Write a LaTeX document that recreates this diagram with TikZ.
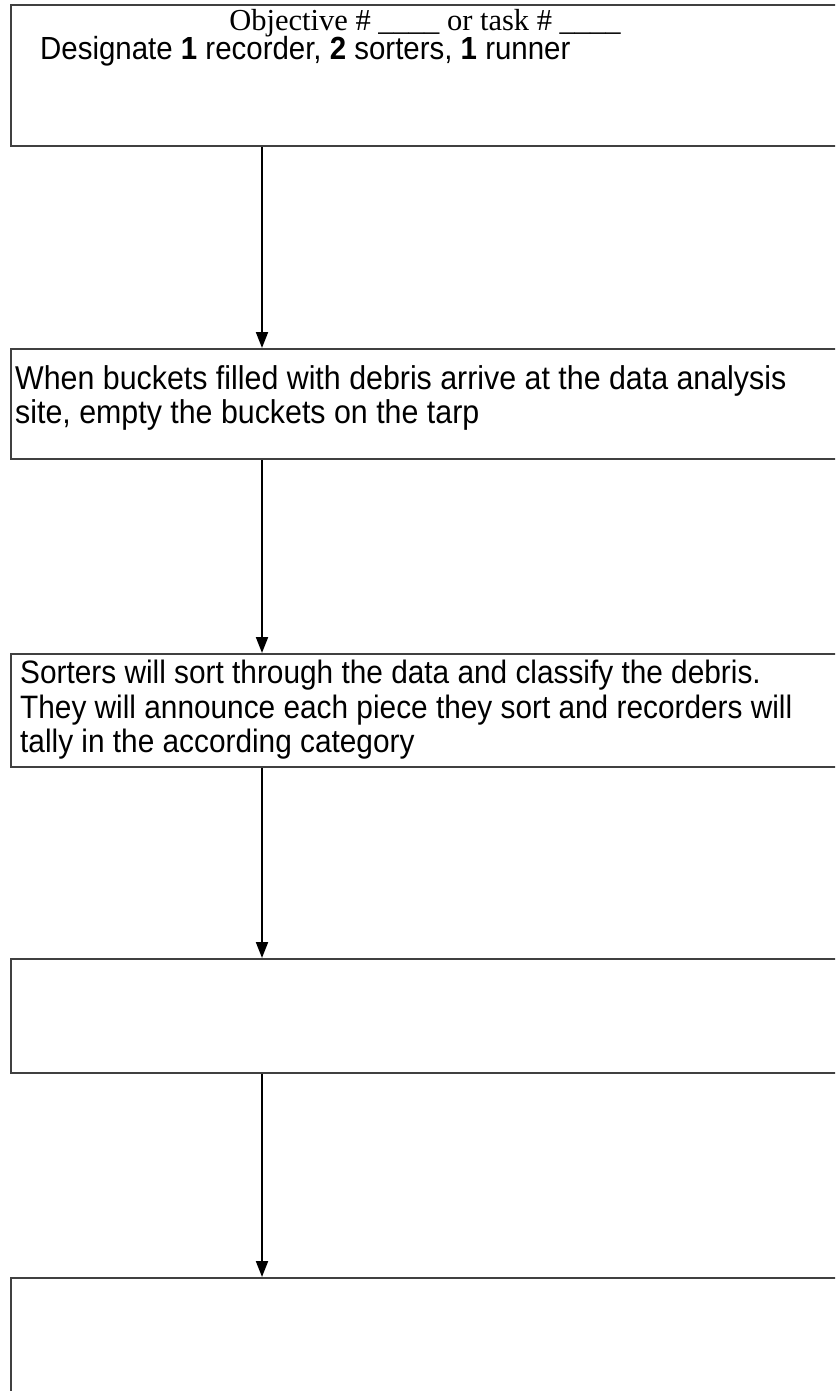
\documentclass[tikz,border=0pt]{standalone}
\usepackage{fontspec}
\setmainfont{Liberation Sans}[FakeStretch=0.92]
\newfontfamily\serifface{Liberation Serif}
\usetikzlibrary{arrows.meta}
\begin{document}
\begin{tikzpicture}[x=1pt,y=-1pt,
  box/.style={draw=black!75,line width=2.2pt,fill=none,rectangle,anchor=north west,inner sep=0pt},
  txt/.style={anchor=base west,inner sep=0pt,font=\fontsize{33}{34}\selectfont},
  conn/.style={draw=black,line width=2pt,-{Triangle[length=16pt,width=12pt]}}]
\clip (0,0) rectangle (835,1391);
\fill[white] (0,0) rectangle (835,1391);
% boxes
\node[box,minimum width=840pt,minimum height=141pt] (b1) at (10,4) {};
\node[box,minimum width=840pt,minimum height=110pt] (b2) at (10,348) {};
\node[box,minimum width=840pt,minimum height=113pt] (b3) at (10,653) {};
\node[box,minimum width=840pt,minimum height=114pt] (b4) at (10,958) {};
\node[box,minimum width=840pt,minimum height=130pt] (b5) at (10,1277) {};
% texts
\node[anchor=base,inner sep=0pt,font=\serifface\fontsize{30.5}{32}\selectfont] (t1a) at (425,31)
  {Objective \# \_\_\_\_ or task \# \_\_\_\_};
\node[txt,font=\fontsize{32}{34}\selectfont] (t1b) at (40,60) {Designate \textbf{1} recorder, \textbf{2} sorters, \textbf{1} runner};
\node[txt] (t2a) at (15,389) {When buckets filled with debris arrive at the data analysis};
\node[txt] (t2b) at (15,423) {site, empty the buckets on the tarp};
\node[txt,font=\fontsize{32.4}{34}\selectfont] (t3a) at (20,683) {Sorters will sort through the data and classify the debris.};
\node[txt,font=\fontsize{32.4}{34}\selectfont] (t3b) at (20,718) {They will announce each piece they sort and recorders will};
\node[txt,font=\fontsize{32.4}{34}\selectfont] (t3c) at (20,752) {tally in the according category};
% connectors
\coordinate (a1) at (262,145);
\draw[conn] (b1.south west -| a1) -- (b2.north west -| a1);
\draw[conn] (b2.south west -| a1) -- (b3.north west -| a1);
\draw[conn] (b3.south west -| a1) -- (b4.north west -| a1);
\draw[conn] (b4.south west -| a1) -- (b5.north west -| a1);
\end{tikzpicture}
\end{document}
